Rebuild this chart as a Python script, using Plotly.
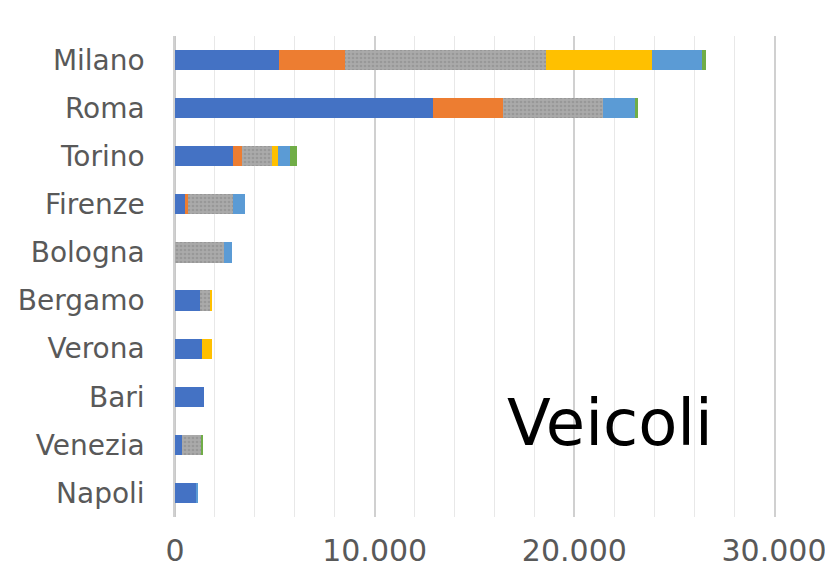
import plotly.graph_objects as go

cities = ["Milano", "Roma", "Torino", "Firenze", "Bologna",
          "Bergamo", "Verona", "Bari", "Venezia", "Napoli"]

serie_1 = [5200, 12900, 2900, 500, 0, 1270, 1340, 1470, 370, 1100]
serie_2 = [3300, 3550, 450, 150, 0, 0, 0, 0, 0, 0]
serie_3 = [10100, 5000, 1500, 2270, 2440, 470, 0, 0, 970, 0]
serie_4 = [5300, 0, 330, 0, 0, 130, 530, 0, 0, 0]
serie_5 = [2500, 1600, 560, 600, 400, 0, 0, 0, 0, 30]
serie_6 = [200, 150, 360, 0, 0, 0, 0, 0, 50, 0]

series = [
    ("Serie 1", serie_1, "#4472C4", None),
    ("Serie 2", serie_2, "#ED7D31", None),
    ("Serie 3", serie_3, "#A5A5A5", "pattern"),
    ("Serie 4", serie_4, "#FFC000", None),
    ("Serie 5", serie_5, "#5B9BD5", None),
    ("Serie 6", serie_6, "#70AD47", None),
]

x_ticks = [0, 10000, 20000, 30000]
x_tick_labels = ["0", "10.000", "20.000", "30.000"]

fig = go.Figure()
for name, vals, color, pat in series:
    marker = dict(color=color, line=dict(width=0))
    if pat:
        marker["pattern"] = dict(shape=".", fgcolor="#989898", bgcolor="#AAAAAA",
                                 size=4, solidity=0.35, fillmode="replace")
    fig.add_trace(go.Bar(y=cities, x=vals, name=name, orientation="h",
                         marker=marker, showlegend=False))

fig.update_layout(
    width=825, height=566,
    barmode="stack", bargap=0.58,
    margin=dict(l=167, r=59, t=28, b=57, autoexpand=False),
    paper_bgcolor="white", plot_bgcolor="white",
    font=dict(family="DejaVu Sans", color="#595959"),
    xaxis=dict(
        range=[0, 30000], tickvals=x_ticks, ticktext=x_tick_labels,
        showgrid=True, gridcolor="#D0D0D0", gridwidth=1.5,
        zeroline=True, zerolinecolor="#C8C8C8", zerolinewidth=1.5,
        minor=dict(dtick=2000, showgrid=True, gridcolor="#E8E8E8", gridwidth=1),
        tickfont=dict(size=30, color="#595959"),
        ticks="", showline=False, ticklabelstandoff=13, automargin=False,
    ),
    yaxis=dict(
        categoryorder="array", categoryarray=cities, autorange="reversed",
        tickfont=dict(size=28, color="#595959"),
        showgrid=False, ticks="", ticklabelstandoff=23,
        showline=True, mirror=True, linecolor="#D0D0D0", linewidth=1.5,
        automargin=False,
    ),
    annotations=[dict(
        text="Veicoli", xref="paper", yref="paper",
        x=(610 - 175) / (774 - 175), y=(517 - 423) / (517 - 36),
        showarrow=False, xanchor="center", yanchor="middle",
        font=dict(family="DejaVu Sans", size=64, color="black"),
    )],
)

fig.write_html("out.html")
